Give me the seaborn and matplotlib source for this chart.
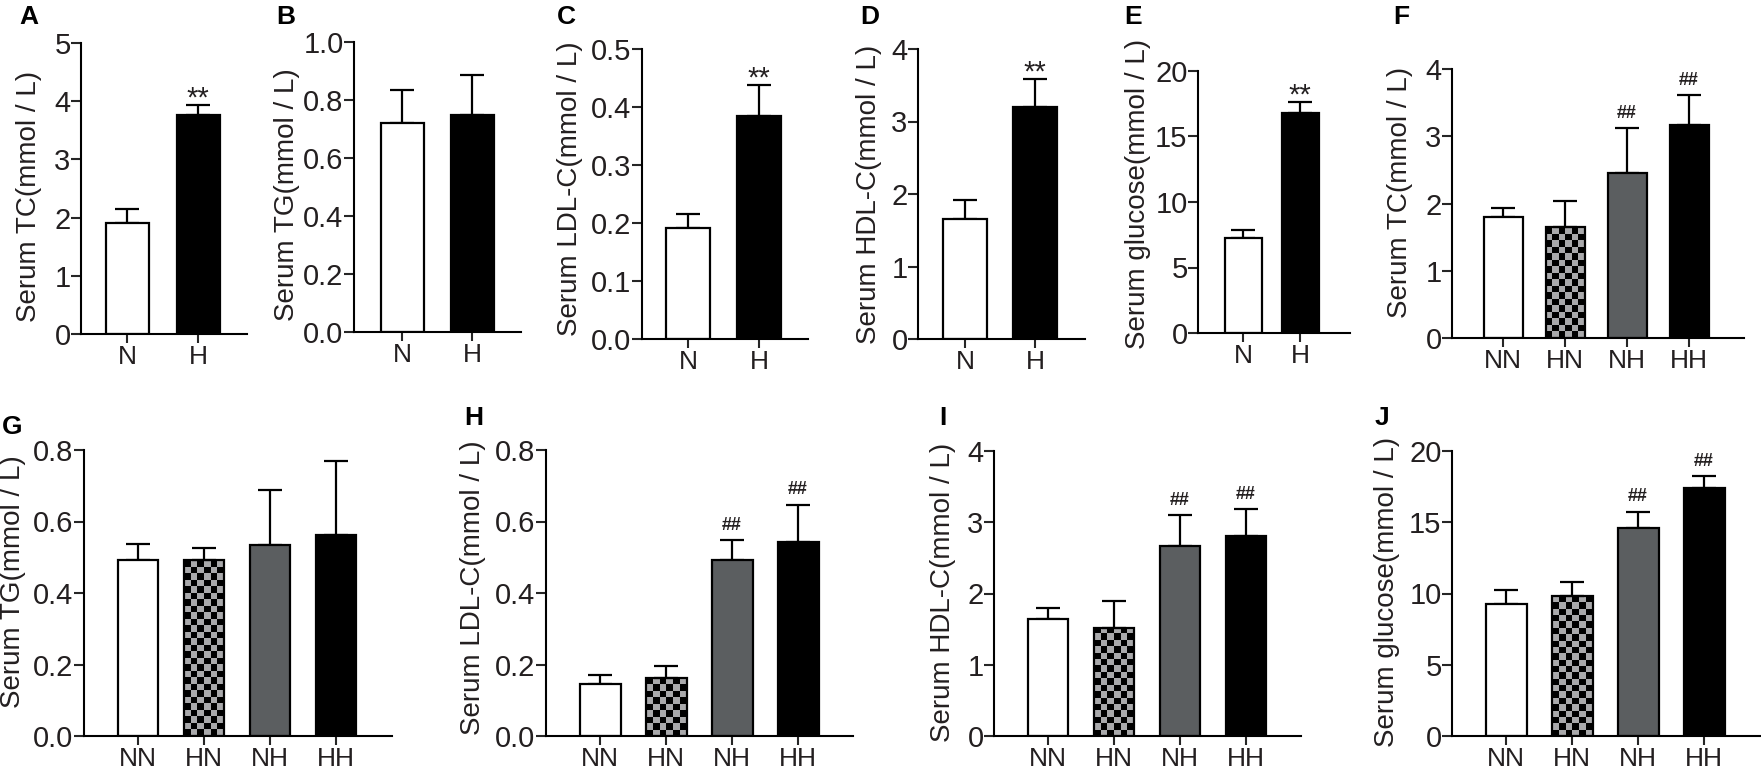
import numpy as np
import seaborn as sns
import matplotlib.pyplot as plt
from matplotlib.colors import ListedColormap

W, H = 1761, 773

two_groups = ['N', 'H']
four_groups = ['NN', 'HN', 'NH', 'HH']

a_means = [1.90, 3.76]
a_errs = [0.24, 0.17]
b_means = [0.72, 0.75]
b_errs = [0.116, 0.136]
c_means = [0.192, 0.385]
c_errs = [0.024, 0.053]
d_means = [1.65, 3.20]
d_errs = [0.27, 0.38]
e_means = [7.25, 16.77]
e_errs = [0.65, 0.83]
f_means = [1.80, 1.65, 2.45, 3.16]
f_errs = [0.14, 0.38, 0.67, 0.45]
g_means = [0.491, 0.491, 0.534, 0.563]
g_errs = [0.047, 0.036, 0.155, 0.206]
h_means = [0.145, 0.161, 0.491, 0.542]
h_errs = [0.026, 0.034, 0.057, 0.105]
i_means = [1.645, 1.52, 2.67, 2.81]
i_errs = [0.145, 0.37, 0.43, 0.37]
j_means = [9.28, 9.79, 14.6, 17.4]
j_errs = [0.95, 1.05, 1.15, 0.85]

a_ticks = [0, 1, 2, 3, 4, 5]
b_ticks = ['0.0', '0.2', '0.4', '0.6', '0.8', '1.0']
c_ticks = ['0.0', '0.1', '0.2', '0.3', '0.4', '0.5']
d_ticks = [0, 1, 2, 3, 4]
e_ticks = [0, 5, 10, 15, 20]
g_ticks = ['0.0', '0.2', '0.4', '0.6', '0.8']

sns.set_style('ticks')
plt.rcParams['font.family'] = ['Liberation Sans', 'DejaVu Sans']
TEXT = '#231f20'
GREY = '#5b5e60'
palette2 = {'N': 'white', 'H': 'black'}
palette4 = {'NN': 'white', 'HN': 'white', 'NH': GREY, 'HH': 'black'}
checker_cmap = ListedColormap(['black', '#a9a9ab'])

fig = plt.figure(figsize=(W / 100, H / 100), dpi=100)


def panel(letter, letter_xy, title, label_xy, groups, means, errs, ticks, marks,
          spine, right, top, base, c0, c1, bar_px):
    ax = fig.add_axes([spine / W, 1 - base / H, (right - spine) / W, (base - top) / H])
    ax.patch.set_alpha(0)
    step = c1 - c0
    pal = palette2 if len(groups) == 2 else palette4
    sns.barplot(x=groups, y=means, hue=groups, palette=pal, order=groups,
                width=bar_px / step, edgecolor='black', linewidth=1.6,
                saturation=1, errorbar=None, legend=False, ax=ax)

    # checkerboard fill for the HN bar
    if len(groups) == 4:
        bar = ax.patches[1]
        bar.set_facecolor('none')
        x0, x1 = bar.get_x(), bar.get_x() + bar.get_width()
        y1 = bar.get_height()
        px_h = y1 / float(ticks[-1]) * (base - top)
        nx, ny = int(round(bar_px / 6.4)), int(round(px_h / 6.4))
        board = np.indices((ny, nx)).sum(axis=0) % 2
        ax.imshow(board, extent=(x0, x1, 0, y1), cmap=checker_cmap, aspect='auto',
                  interpolation='nearest', origin='lower', zorder=0.5)

    xs = np.arange(len(groups))
    ax.errorbar(xs, means, yerr=[np.zeros(len(xs)), errs], fmt='none', ecolor='black',
                elinewidth=1.6, capsize=8.3, capthick=1.6, zorder=0.9)

    for i, mark in marks.items():
        cap = means[i] + errs[i]
        if mark == '**':
            ax.annotate(mark, (i, cap), xytext=(0, -1), textcoords='offset points',
                        ha='center', va='baseline', fontsize=21, color=TEXT)
        else:
            ax.annotate(mark, (i, cap), xytext=(0, 7.5), textcoords='offset points',
                        ha='center', va='baseline', fontsize=13, fontweight='bold', color=TEXT)

    ax.set_xlim((spine - c0) / step, (right - c0) / step)
    ax.set_ylim(0, float(ticks[-1]))
    ax.set_yticks([float(t) for t in ticks])
    ax.set_yticklabels([str(t) for t in ticks])
    ax.set_xticks(xs)
    ax.set_xticklabels(groups)
    ax.tick_params(axis='y', length=7, width=1.5, labelsize=21, pad=0.5, labelcolor=TEXT)
    ax.tick_params(axis='x', length=6.5, width=1.5, labelsize=19, pad=1.5, labelcolor=TEXT)
    sns.despine(ax=ax)
    for s in ['left', 'bottom']:
        ax.spines[s].set_linewidth(1.5)
        ax.spines[s].set_color('black')

    fig.text(label_xy[0] / W, 1 - label_xy[1] / H, title, rotation=90, fontsize=20,
             color=TEXT, ha='center', va='center')
    fig.text(letter_xy[0] / W, 1 - letter_xy[1] / H, letter, fontsize=19,
             fontweight='bold', color='black', ha='left', va='baseline')


panel('A', (19, 24), 'Serum TC(mmol / L)', (29, 196), two_groups, a_means, a_errs, a_ticks,
      {1: '**'}, 81, 247, 43, 334, 127, 198, 43)
panel('B', (276, 24), 'Serum TG(mmol / L)', (287, 195), two_groups, b_means, b_errs, b_ticks,
      {}, 354, 521, 42, 332, 402, 472, 43)
panel('C', (557, 24), 'Serum LDL-C(mmol / L)', (570, 189), two_groups, c_means, c_errs, c_ticks,
      {1: '**'}, 642, 808, 49, 339, 688, 759, 44)
panel('D', (860, 24), 'Serum HDL-C(mmol / L)', (869, 194), two_groups, d_means, d_errs, d_ticks,
      {1: '**'}, 918, 1085, 49, 339, 965, 1035, 44)
panel('E', (1124, 24), 'Serum glucose(mmol / L)', (1138, 194), two_groups, e_means, e_errs, e_ticks,
      {1: '**'}, 1198, 1350, 71, 333, 1243, 1300, 37)
panel('F', (1393, 24), 'Serum TC(mmol / L)', (1400, 192), four_groups, f_means, f_errs, d_ticks,
      {2: '##', 3: '##'}, 1452, 1744, 69, 338, 1503, 1565, 39)
panel('G', (2, 434), 'Serum TG(mmol / L)', (13, 582), four_groups, g_means, g_errs, g_ticks,
      {}, 84, 392, 450, 736, 138, 204, 40)
panel('H', (464, 425), 'Serum LDL-C(mmol / L)', (473, 588), four_groups, h_means, h_errs, g_ticks,
      {2: '##', 3: '##'}, 546, 853, 450, 736, 600, 666, 41)
panel('I', (939, 425), 'Serum HDL-C(mmol / L)', (943, 592), four_groups, i_means, i_errs, d_ticks,
      {2: '##', 3: '##'}, 994, 1301, 451, 736, 1048, 1114, 40)
panel('J', (1375, 425), 'Serum glucose(mmol / L)', (1387, 592), four_groups, j_means, j_errs, e_ticks,
      {2: '##', 3: '##'}, 1452, 1761, 451, 736, 1506, 1572, 41)

fig.savefig('out.png', dpi=100, facecolor='white')
